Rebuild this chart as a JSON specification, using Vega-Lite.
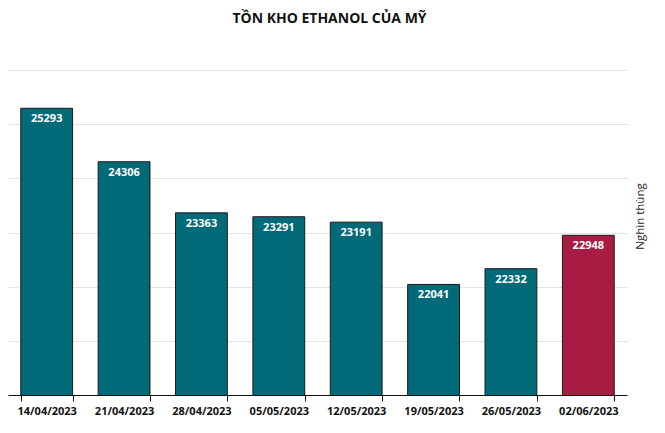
{
  "$schema": "https://vega.github.io/schema/vega-lite/v6.json",
  "autosize": "none",
  "width": 619,
  "height": 325,
  "padding": {"left": 8, "top": 70, "right": 38, "bottom": 38},
  "background": "white",
  "title": {
    "text": "TỒN KHO ETHANOL CỦA MỸ",
    "font": "Open Sans",
    "fontSize": 14,
    "fontWeight": "bold",
    "color": "#111111",
    "offset": 44,
    "dx": 12
  },
  "data": {
    "values": [
      {"date": "14/04/2023", "value": 25293, "latest": "no"},
      {"date": "21/04/2023", "value": 24306, "latest": "no"},
      {"date": "28/04/2023", "value": 23363, "latest": "no"},
      {"date": "05/05/2023", "value": 23291, "latest": "no"},
      {"date": "12/05/2023", "value": 23191, "latest": "no"},
      {"date": "19/05/2023", "value": 22041, "latest": "no"},
      {"date": "26/05/2023", "value": 22332, "latest": "no"},
      {"date": "02/06/2023", "value": 22948, "latest": "yes"}
    ]
  },
  "encoding": {
    "x": {
      "field": "date",
      "type": "ordinal",
      "sort": null,
      "scale": {"paddingInner": 0.33, "paddingOuter": 0.165},
      "axis": {
        "title": null,
        "labelAngle": 0,
        "labelFont": "Open Sans",
        "labelFontSize": 11,
        "labelFontWeight": "bold",
        "labelColor": "#111111",
        "labelPadding": 4,
        "domainColor": "#111111",
        "tickColor": "#111111",
        "tickSize": 6,
        "tickBand": "extent"
      }
    },
    "y": {
      "field": "value",
      "type": "quantitative",
      "scale": {"domain": [20000, 26000], "zero": false},
      "axis": {
        "orient": "right",
        "title": "Nghìn thùng",
        "titleFont": "Open Sans",
        "titleFontSize": 11.5,
        "titleFontWeight": "normal",
        "titleColor": "#222222",
        "titleAngle": 270,
        "titleBaseline": "top",
        "titleAlign": "center",
        "titleY": 146,
        "titlePadding": 7,
        "labels": false,
        "ticks": false,
        "domain": false,
        "values": [20000, 21000, 22000, 23000, 24000, 25000, 26000],
        "gridColor": "#e4e4e4"
      }
    }
  },
  "layer": [
    {
      "mark": {"type": "bar", "stroke": "#1a1a1a", "strokeWidth": 1, "clip": true},
      "encoding": {
        "color": {
          "field": "latest",
          "type": "nominal",
          "scale": {"domain": ["no", "yes"], "range": ["#016a78", "#a81c44"]},
          "legend": null
        }
      }
    },
    {
      "mark": {
        "type": "text",
        "baseline": "top",
        "dy": 5,
        "font": "Open Sans",
        "fontSize": 11,
        "fontWeight": "bold",
        "color": "white"
      },
      "encoding": {"text": {"field": "value", "type": "quantitative", "format": "d"}}
    }
  ],
  "config": {"view": {"stroke": null}}
}
